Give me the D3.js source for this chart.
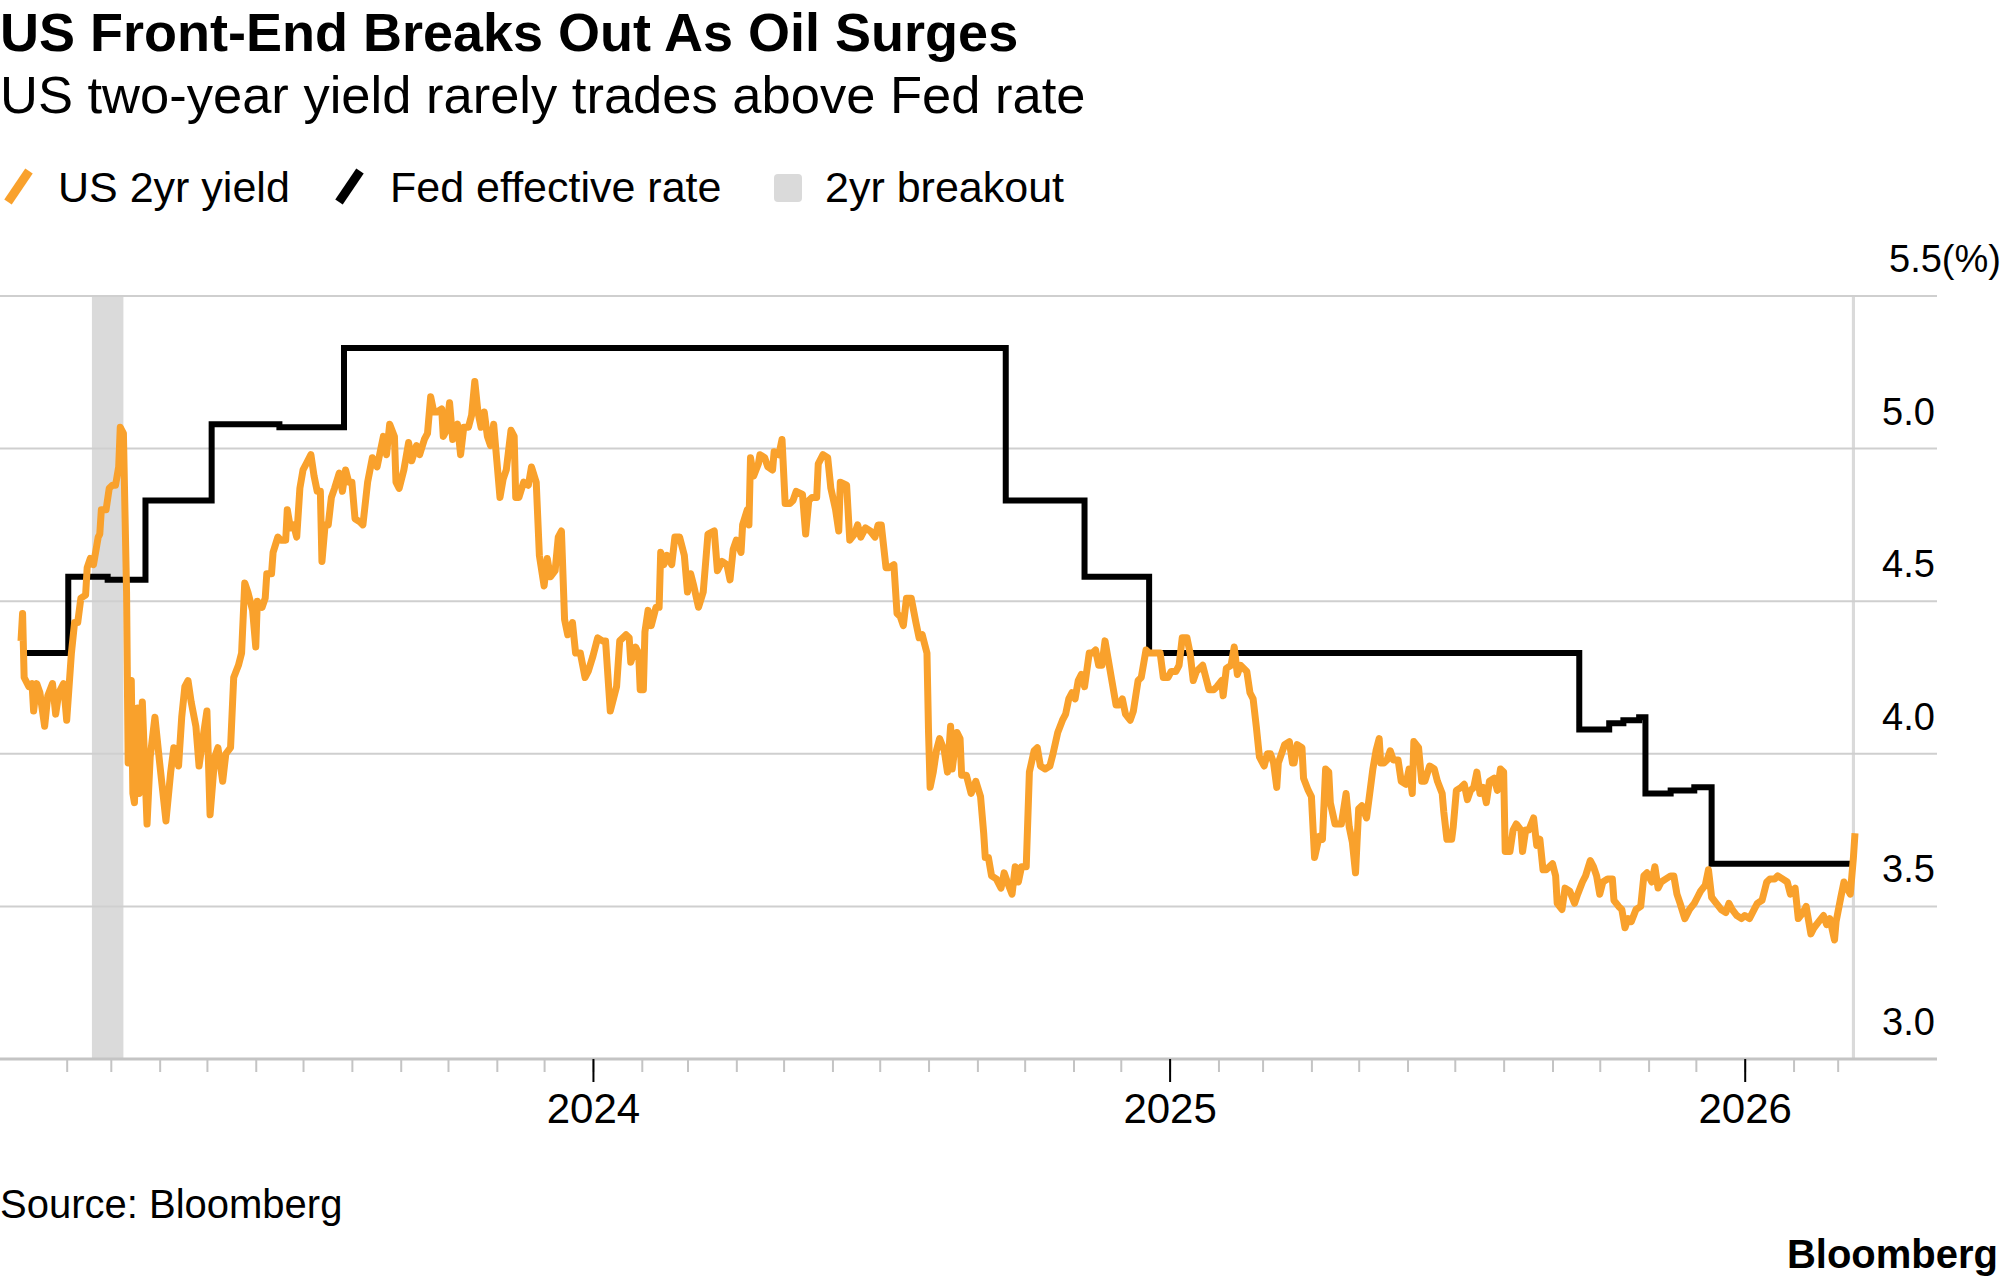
<!DOCTYPE html>
<html>
<head>
<meta charset="utf-8">
<script src="https://cdn.jsdelivr.net/npm/d3@7"></script>
<style>
  body { margin: 0; background: #fff; }
  svg { font-family: "Liberation Sans", Arial, sans-serif; }
</style>
</head>
<body>
<svg id="chart" width="2005" height="1287"></svg>
<script>
// ---- data ----
// US 2yr yield, [days after 1 Jan 2023, %]
const yield2y = [
  [2,4.37],[3,4.46],[4,4.25],[7,4.22],[9,4.23],[10,4.14],[12,4.23],[14,4.20],[17,4.09],[19,4.19],
  [22,4.23],[24,4.13],[26,4.20],[29,4.23],[31,4.11],[34,4.33],[36,4.43],[38,4.43],[40,4.51],[43,4.52],
  [44,4.61],[46,4.64],[48,4.62],[51,4.71],[52,4.72],[53,4.80],[56,4.80],[58,4.87],[60,4.88],[62,4.88],
  [64,4.94],[65,5.07],[67,5.05],[69,4.53],[70,3.97],[72,4.24],[73,3.87],[74,3.84],[76,4.15],[77,3.87],
  [79,4.17],[82,3.77],[84,3.99],[87,4.12],[90,3.97],[94,3.78],[97,3.94],[99,4.02],[102,3.96],[104,4.12],
  [106,4.22],[108,4.24],[110,4.17],[113,4.09],[115,3.96],[118,4.07],[120,4.14],[122,3.80],[125,3.99],[127,4.02],
  [130,3.91],[132,4.00],[135,4.02],[137,4.25],[140,4.29],[142,4.33],[144,4.56],[146,4.53],[149,4.47],[151,4.35],
  [152,4.50],[155,4.48],[157,4.51],[158,4.59],[161,4.59],[162,4.66],[165,4.71],[167,4.70],[170,4.70],[171,4.80],
  [173,4.74],[175,4.75],[177,4.71],[179,4.87],[181,4.93],[183,4.95],[186,4.98],
  [188,4.91],[190,4.86],[192,4.86],[193,4.63],[195,4.75],[197,4.75],[199,4.84],[201,4.87],[204,4.92],[206,4.86],
  [208,4.93],[210,4.89],[212,4.89],[214,4.77],[217,4.76],[219,4.75],[222,4.89],[225,4.97],[228,4.94],[230,4.99],
  [232,5.04],[234,4.98],[236,5.08],[239,5.04],[240,4.89],[242,4.87],[245,4.93],[248,5.02],[250,4.96],[253,5.01],
  [255,4.98],[258,5.03],[260,5.05],[262,5.17],[264,5.12],[266,5.12],[269,5.13],[270,5.04],[272,5.06],[274,5.15],
  [276,5.03],[279,5.08],[281,4.98],[283,5.07],[286,5.07],[288,5.11],[290,5.22],[292,5.12],[294,5.07],[296,5.12],
  [298,5.04],[300,5.01],[302,5.08],[304,4.96],[306,4.84],[308,4.90],[310,4.93],[313,5.06],[315,5.04],[316,4.84],
  [318,4.84],[321,4.89],[324,4.88],[326,4.94],[329,4.89],[331,4.65],[334,4.55],[336,4.64],[338,4.58],[341,4.60],
  [343,4.71],[345,4.73],[347,4.44],[349,4.39],[352,4.43],[354,4.33],[357,4.33],[360,4.25],[362,4.27],[365,4.32],
  [368,4.38],[371,4.37],[373,4.37],[376,4.14],[378,4.18],[380,4.22],[382,4.37],
  [386,4.39],[388,4.38],[389,4.30],[392,4.35],[394,4.33],[395,4.21],[397,4.21],[398,4.40],[400,4.47],[402,4.42],
  [405,4.48],[407,4.48],[408,4.66],[410,4.62],[412,4.65],[415,4.62],[417,4.71],[420,4.71],[423,4.65],[425,4.53],
  [427,4.59],[429,4.55],[432,4.48],[435,4.53],[438,4.72],[442,4.73],[444,4.60],[447,4.63],[450,4.62],[452,4.57],
  [454,4.67],[456,4.70],[459,4.66],[460,4.75],[463,4.80],[464,4.75],[465,4.97],[467,4.91],[470,4.95],[471,4.98],
  [474,4.97],[476,4.94],[479,4.93],[480,4.99],[483,4.98],[485,5.03],[487,4.82],[490,4.82],[492,4.83],[494,4.86],
  [498,4.85],[500,4.72],[502,4.83],[504,4.84],[507,4.84],[508,4.95],[511,4.98],[514,4.97],[516,4.87],[519,4.80],
  [521,4.73],[522,4.89],[526,4.88],[528,4.70],[531,4.72],[533,4.75],[535,4.71],[538,4.74],[541,4.73],[544,4.71],
  [546,4.75],[548,4.75],[551,4.61],[553,4.61],[556,4.62],[558,4.46],[560,4.45],[562,4.42],[564,4.51],[567,4.51],
  [570,4.43],[572,4.38],[574,4.39],[577,4.33],[578,4.07],[579,3.89],
  [581,3.94],[583,4.01],[585,4.05],[588,4.01],[590,3.94],[592,4.09],[593,3.95],[596,4.07],[598,4.05],[599,3.93],
  [602,3.93],[605,3.87],[608,3.91],[611,3.86],[613,3.74],[614,3.66],[616,3.66],[618,3.60],[621,3.59],[624,3.56],
  [626,3.61],[628,3.58],[631,3.54],[633,3.63],[635,3.58],[637,3.63],[640,3.63],[642,3.94],[645,4.01],[647,4.02],
  [649,3.96],[652,3.95],[655,3.96],[657,4.00],[660,4.07],[663,4.11],[665,4.13],[667,4.18],[669,4.20],[671,4.18],
  [673,4.24],[675,4.26],[677,4.22],[680,4.33],[682,4.33],[684,4.34],[686,4.29],[688,4.29],[690,4.37],[692,4.31],
  [694,4.25],[697,4.16],[699,4.16],[701,4.18],[703,4.13],[706,4.11],[708,4.14],[711,4.24],[713,4.25],[716,4.34],
  [718,4.33],[720,4.33],[723,4.33],[725,4.33],[727,4.25],[730,4.25],[732,4.27],[735,4.27],[737,4.29],[739,4.38],
  [742,4.38],[744,4.33],[746,4.24],[748,4.27],[752,4.29],[754,4.25],[756,4.21],[759,4.21],[761,4.22],[764,4.24],
  [765,4.19],[767,4.28],[770,4.29],[772,4.35],[774,4.26],[776,4.29],
  [780,4.27],[782,4.20],[784,4.18],[786,4.09],[788,3.99],[791,3.96],[793,4.00],[795,4.00],[797,3.97],[799,3.89],
  [800,3.97],[802,4.00],[804,4.03],[807,4.04],[809,3.97],[810,3.97],[812,4.03],[815,4.02],[816,3.92],[819,3.88],
  [821,3.86],[823,3.66],[826,3.73],[828,3.72],[830,3.95],[832,3.94],[833,3.84],[836,3.77],[838,3.77],[840,3.77],
  [843,3.87],[845,3.76],[847,3.71],[849,3.61],[851,3.82],[853,3.83],[856,3.79],[858,3.87],[860,3.95],[862,4.01],
  [864,4.05],[865,3.97],[867,3.97],[869,3.98],[871,4.01],[873,3.98],[876,3.98],[878,3.91],[881,3.90],[883,3.95],
  [885,3.87],[886,4.04],[889,4.02],[891,3.91],[893,3.91],[896,3.96],[899,3.95],[901,3.91],[904,3.87],[905,3.81],
  [907,3.72],[910,3.72],[911,3.76],[913,3.88],[916,3.89],[918,3.90],[920,3.85],[922,3.88],[924,3.89],[926,3.94],
  [928,3.87],[930,3.89],[932,3.84],[934,3.91],[937,3.92],[939,3.88],[941,3.95],[943,3.94],[944,3.68],[947,3.68],
  [949,3.75],[951,3.77],[954,3.75],[955,3.68],[957,3.75],[959,3.75],[962,3.79],[964,3.70],[966,3.72],[968,3.62],
  [970,3.62],[974,3.64],[976,3.60],[977,3.51],
  [980,3.49],[982,3.56],[985,3.55],[988,3.51],[990,3.54],[993,3.58],[995,3.60],[998,3.65],[1000,3.63],[1002,3.60],
  [1004,3.54],[1006,3.58],[1009,3.59],[1012,3.59],[1013,3.52],[1016,3.50],[1018,3.49],[1020,3.43],[1022,3.46],[1024,3.45],
  [1027,3.49],[1030,3.50],[1032,3.60],[1034,3.61],[1037,3.58],[1039,3.63],[1041,3.56],[1043,3.58],[1046,3.59],[1049,3.60],
  [1051,3.60],[1053,3.54],[1055,3.51],[1058,3.46],[1061,3.49],[1064,3.51],[1066,3.53],[1068,3.55],[1071,3.57],[1073,3.62],
  [1075,3.53],[1078,3.51],[1081,3.49],[1084,3.48],[1086,3.51],[1088,3.49],[1091,3.47],[1094,3.46],[1096,3.47],[1099,3.46],
  [1102,3.49],[1104,3.51],[1107,3.52],[1110,3.58],[1112,3.59],[1115,3.59],[1117,3.60],[1120,3.59],[1123,3.58],[1125,3.54],
  [1128,3.56],[1130,3.46],[1133,3.48],[1135,3.50],[1138,3.41],[1140,3.43],[1143,3.45],[1146,3.47],[1148,3.44],[1150,3.46],
  [1153,3.39],[1154,3.45],[1157,3.53],[1159,3.58],[1161,3.56],[1163,3.54],[1165,3.66],[1166,3.74]
]

// Fed effective rate (step changes)
const fedDates = ['2023-01-03','2023-02-02','2023-02-27','2023-03-23','2023-05-04','2023-06-16','2023-07-27',
  '2024-09-19','2024-11-08','2024-12-19','2025-09-18','2025-10-07','2025-10-16','2025-10-26',
  '2025-10-30','2025-11-15','2025-11-30','2025-12-11','2026-03-12']
const fedValues = [4.33,4.58,4.57,4.83,5.08,5.07,5.33,4.83,4.58,4.33,4.08,4.10,4.11,4.12,3.87,3.88,3.89,3.64,3.64]

// periods when the 2yr traded above the Fed rate
const breakoutStart = ['2023-02-17','2026-03-10']
const breakoutEnd = ['2023-03-09','2026-03-12']

const yTicks = [3.0, 3.5, 4.0, 4.5, 5.0, 5.5]
const legendLabels = ['US 2yr yield', 'Fed effective rate', '2yr breakout']

// ---- chart ----
const svg = d3.select('#chart')
const width = +svg.attr('width')
const height = +svg.attr('height')
svg.append('rect').attr('width', width).attr('height', height).attr('fill', '#fff')

const parseDate = d3.timeParse('%Y-%m-%d')
const dayZero = new Date(2023, 0, 1)

const yieldData = yield2y.map(d => ({ date: d3.timeDay.offset(dayZero, d[0]), value: d[1] }))
const fedData = fedDates.map((d, i) => ({ date: parseDate(d), value: fedValues[i] }))

const orange = '#f9a12c'
const gridColor = '#cfcfcf'
const gridRight = 1937

const xScale = d3.scaleTime()
    .domain([parseDate('2023-01-03'), parseDate('2026-03-12')])
    .range([21, 1855])

const yScale = d3.scaleLinear()
    .domain([3, 5.5])
    .range([1059, 296])

// breakout bands
svg.append('g').selectAll('rect').data(breakoutStart)
    .enter().append('rect')
        .attr('x', d => xScale(parseDate(d)))
        .attr('width', (d, i) => Math.max(3, xScale(parseDate(breakoutEnd[i])) - xScale(parseDate(d))))
        .attr('y', yScale(5.5))
        .attr('height', yScale(3) - yScale(5.5))
        .attr('fill', '#dadada')

// horizontal grid
svg.append('g').selectAll('line').data(yTicks)
    .enter().append('line')
        .attr('x1', 0)
        .attr('x2', gridRight)
        .attr('y1', d => yScale(d))
        .attr('y2', d => yScale(d))
        .attr('stroke', d => d === 3 ? '#c4c4c4' : gridColor)
        .attr('stroke-width', d => d === 3 ? 3 : 2)

// y labels (right side, above each line)
svg.append('g').selectAll('text').data(yTicks)
    .enter().append('text')
        .attr('x', d => d === 5.5 ? 1889 : 1882)
        .attr('y', d => yScale(d) - 24)
        .attr('font-size', 38)
        .attr('fill', '#000')
        .text(d => d === 5.5 ? '5.5(%)' : d.toFixed(1))

// x axis: month ticks then year ticks
const monthAxis = svg.append('g')
    .attr('transform', `translate(0, ${yScale(3)})`)
    .call(d3.axisBottom(xScale).ticks(d3.timeMonth.every(1)).tickSize(13).tickFormat(''))
monthAxis.select('.domain').remove()
monthAxis.selectAll('.tick line').attr('stroke', '#c4c4c4').attr('stroke-width', 2)

const yearAxis = svg.append('g')
    .attr('transform', `translate(0, ${yScale(3)})`)
    .call(d3.axisBottom(xScale).ticks(d3.timeYear.every(1)).tickSize(23).tickPadding(11)
        .tickFormat(d3.timeFormat('%Y')))
yearAxis.select('.domain').remove()
yearAxis.selectAll('.tick line').attr('stroke', '#000').attr('stroke-width', 2)
yearAxis.selectAll('.tick text')
    .attr('font-size', 42)
    .attr('font-family', '"Liberation Sans", Arial, sans-serif')
    .attr('fill', '#000')

// lines
const fedLine = d3.line()
    .x(d => xScale(d.date))
    .y(d => yScale(d.value))
    .curve(d3.curveStepAfter)

svg.append('path')
    .datum(fedData)
    .attr('d', fedLine)
    .attr('fill', 'none')
    .attr('stroke', '#000')
    .attr('stroke-width', 6)

const yieldLine = d3.line()
    .x(d => xScale(d.date))
    .y(d => yScale(d.value))

svg.append('path')
    .datum(yieldData)
    .attr('d', yieldLine)
    .attr('fill', 'none')
    .attr('stroke', orange)
    .attr('stroke-width', 7)
    .attr('stroke-linejoin', 'round')

// titles
svg.append('text')
    .attr('x', 0).attr('y', 51)
    .attr('font-size', 54).attr('font-weight', 'bold')
    .text('US Front-End Breaks Out As Oil Surges')

svg.append('text')
    .attr('x', 0).attr('y', 113)
    .attr('font-size', 52.5)
    .text('US two-year yield rarely trades above Fed rate')

// legend
const legendX = [0, 332, 772]
const legend = svg.append('g').attr('transform', 'translate(0, 202)')
legend.append('line')
    .attr('x1', legendX[0] + 8).attr('y1', 0).attr('x2', legendX[0] + 29).attr('y2', -31)
    .attr('stroke', orange).attr('stroke-width', 9)
legend.append('line')
    .attr('x1', legendX[1] + 7).attr('y1', 0).attr('x2', legendX[1] + 28).attr('y2', -31)
    .attr('stroke', '#000').attr('stroke-width', 9)
legend.append('rect')
    .attr('x', legendX[2] + 2).attr('y', -28).attr('width', 28).attr('height', 28).attr('rx', 4)
    .attr('fill', '#dadada')
legend.selectAll('text.lbl').data(legendLabels)
    .enter().append('text')
        .attr('class', 'lbl')
        .attr('x', (d, i) => legendX[i] + (i === 2 ? 53 : 58))
        .attr('y', 0)
        .attr('font-size', 43)
        .text(d => d)

// footer
svg.append('text')
    .attr('x', 0).attr('y', 1218)
    .attr('font-size', 40)
    .text('Source: Bloomberg')

svg.append('text')
    .attr('x', 1998).attr('y', 1268)
    .attr('text-anchor', 'end')
    .attr('font-size', 40).attr('font-weight', 'bold')
    .text('Bloomberg')
</script>
</body>
</html>
